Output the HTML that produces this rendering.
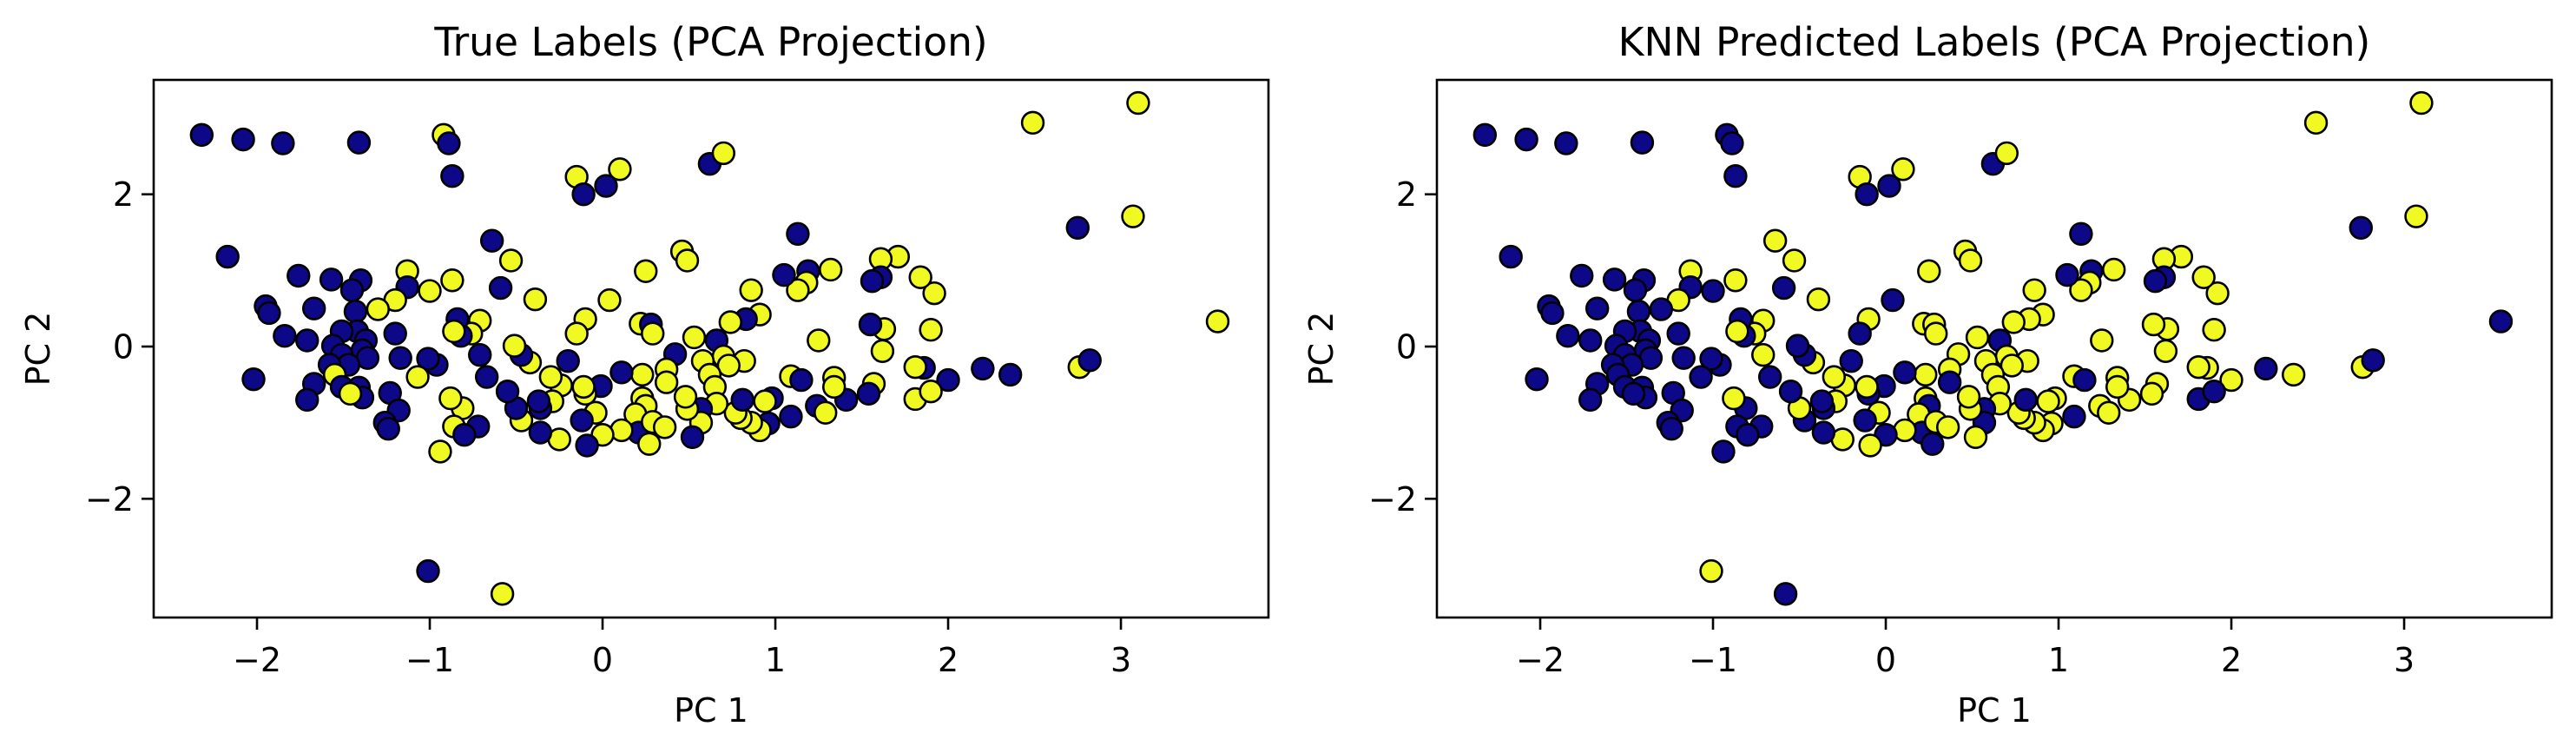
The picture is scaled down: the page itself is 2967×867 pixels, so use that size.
<!DOCTYPE html>
<html><head><meta charset="utf-8"><style>
html,body{margin:0;padding:0;background:#fff}
svg{display:block}
text{font-family:"DejaVu Sans","Liberation Sans",sans-serif;fill:#000}
</style></head><body>
<svg id="fig" width="2967" height="867" viewBox="0 0 2967 867"></svg>
<script>
const xTicks=[-2,-1,0,1,2,3];
const yTicks=[-2,0,2];
const titles=["True Labels (PCA Projection)","KNN Predicted Labels (PCA Projection)"];
const pc1=[-2.32,-2.08,-1.85,-1.41,-0.92,-0.89,-0.87,-0.15,-0.11,0.02,0.10,0.62,0.70,2.49,3.10,3.07,2.75,3.56,2.76,2.82,2.36,2.20,2.00,1.90,1.92,1.84,1.71,1.61,1.61,1.56,1.63,1.55,1.62,1.86,1.81,1.81,1.90,1.57,1.54,1.41,1.34,1.34,1.32,1.24,1.29,1.25,1.13,1.19,1.18,1.13,1.05,1.09,1.15,1.09,0.98,0.94,0.96,0.91,0.86,0.80,0.77,0.81,0.86,0.91,0.83,0.74,0.66,0.70,0.82,0.73,0.58,0.62,0.65,0.66,0.57,0.57,0.52,0.49,0.48,0.53,0.46,0.49,0.42,0.37,0.37,0.25,0.22,0.28,0.29,0.23,0.23,0.25,0.19,0.21,0.27,0.29,0.36,0.11,0.11,0.00,-0.01,-0.04,-0.10,-0.11,-0.12,-0.09,0.04,-0.10,-0.15,-0.20,-0.25,-0.24,-0.30,-0.29,-0.36,-0.37,-0.36,-0.47,-0.50,-0.55,-0.42,-0.47,-0.51,-0.39,-0.53,-0.64,-0.59,-0.67,-0.72,-0.71,-0.71,-0.76,-0.82,-0.84,-0.86,-0.87,-0.81,-0.88,-0.86,-0.80,-0.94,-0.96,-1.01,-1.00,-1.07,-1.13,-1.13,-1.20,-1.30,-1.20,-1.17,-1.23,-1.18,-1.26,-1.24,-1.01,-0.58,-1.40,-1.45,-1.43,-1.42,-1.37,-1.39,-1.36,-1.51,-1.56,-1.51,-1.47,-1.58,-1.55,-1.51,-1.41,-1.39,-1.46,-1.57,-1.76,-1.67,-1.95,-1.93,-1.84,-1.71,-1.67,-1.71,-2.02,-2.17];
const pc2=[2.78,2.72,2.67,2.68,2.78,2.67,2.24,2.23,2.00,2.11,2.33,2.40,2.54,2.94,3.20,1.71,1.56,0.33,-0.27,-0.18,-0.37,-0.29,-0.44,0.22,0.70,0.91,1.18,1.15,0.91,0.86,0.23,0.29,-0.06,-0.28,-0.27,-0.69,-0.59,-0.49,-0.62,-0.70,-0.41,-0.53,1.01,-0.78,-0.87,0.08,1.48,0.99,0.84,0.74,0.94,-0.39,-0.44,-0.92,-0.68,-0.72,-1.01,-1.10,-1.00,-0.94,-0.87,-0.70,0.74,0.42,0.36,0.32,0.08,-0.13,-0.19,-0.25,-0.19,-0.37,-0.53,-0.75,-0.82,-1.00,-1.19,-0.82,-0.66,0.12,1.25,1.13,-0.10,-0.30,-0.47,0.99,0.30,0.29,0.17,-0.37,-0.68,-0.78,-0.89,-1.13,-1.28,-0.99,-1.06,-0.34,-1.10,-1.16,-0.52,-0.87,-0.62,-0.53,-0.97,-1.30,0.61,0.36,0.17,-0.19,-1.22,-0.51,-0.40,-0.72,-0.81,-0.72,-1.13,-0.97,-0.81,-0.59,-0.21,-0.11,0.01,0.62,1.13,1.39,0.77,-0.40,-1.05,0.34,-0.11,0.17,0.14,0.36,0.20,0.87,-0.81,-0.68,-1.05,-1.16,-1.38,-0.24,-0.16,0.73,-0.40,0.99,0.78,0.61,0.49,0.17,-0.15,-0.61,-0.84,-1.00,-1.08,-2.95,-3.25,0.87,0.74,0.46,0.20,0.08,-0.05,-0.15,0.20,0.01,-0.11,-0.24,-0.24,-0.37,-0.53,-0.54,-0.67,-0.62,0.88,0.93,0.50,0.53,0.44,0.14,0.08,-0.49,-0.70,-0.43,1.18];
const trueLabel=[0,0,0,0,1,0,0,1,0,0,1,0,1,1,1,1,0,1,1,0,0,0,0,1,1,1,1,1,0,0,1,0,1,0,1,1,1,1,0,0,1,1,1,0,1,1,0,0,1,1,0,1,0,0,0,1,0,1,1,1,1,0,1,1,0,1,0,1,1,1,1,1,1,1,0,1,0,1,1,1,1,1,0,1,1,1,1,0,1,1,1,1,1,0,1,1,1,0,1,1,0,1,1,1,0,0,1,1,1,0,1,1,1,1,0,0,0,1,0,0,1,0,1,1,1,0,0,0,0,1,0,1,0,0,1,1,1,1,1,0,1,0,0,1,1,1,0,1,1,0,0,0,0,0,0,0,1,0,0,0,0,0,0,0,0,0,0,0,0,1,0,0,0,1,0,0,0,0,0,0,0,0,0,0,0];
const predLabel=[0,0,0,0,0,0,0,1,0,0,1,0,1,1,1,1,0,0,1,0,1,0,1,1,1,1,1,1,0,0,1,1,1,1,1,0,0,1,1,1,1,1,1,1,1,1,0,0,1,1,0,1,0,0,1,1,1,1,1,1,1,0,1,1,1,1,0,1,1,1,1,1,1,1,0,0,1,1,1,1,1,1,1,1,0,1,1,1,1,1,1,0,1,0,0,1,1,0,1,0,0,1,0,1,0,1,0,1,0,0,1,1,1,1,0,0,0,0,1,0,1,0,0,1,1,1,0,0,0,1,1,1,0,0,1,1,0,1,0,0,0,0,0,0,0,1,0,1,0,0,0,0,0,0,0,1,0,0,0,0,0,0,0,0,0,0,0,0,0,0,0,0,0,0,0,0,0,0,0,0,0,0,0,0,0];

const NS="http://www.w3.org/2000/svg";
const svg=document.getElementById('fig');
const X0=-2.598,X1=3.854,Y0=-3.56,Y1=3.503;
const PW=1284,PT=92,PB=711;
const colors=["#0d0887","#f0f921"];
function mk(tag,attrs,parent){const e=document.createElementNS(NS,tag);for(const k in attrs)e.setAttribute(k,attrs[k]);(parent||svg).appendChild(e);return e;}
function drawPanel(left,labels,title,idx){
  const g=mk('g',{});
  
  
  const sx=v=>left+(v-X0)/(X1-X0)*PW;
  const sy=v=>PB-(v-Y0)/(Y1-Y0)*(PB-PT);
  const t=mk('text',{x:left+PW/2,y:64,'text-anchor':'middle','font-size':45.5},g);
  t.textContent=title;
  
  
  for(let i=0;i<pc1.length;i++){
    const c=mk('circle',{cx:sx(pc1[i]),cy:sy(pc2[i]),r:12.4,fill:colors[labels[i]],stroke:'#000','stroke-width':2.6},g);
    
    
  }
  const fr=mk('rect',{x:left,y:PT,width:PW,height:PB-PT,fill:'none',stroke:'#000','stroke-width':2.6},g);
  
  
  xTicks.forEach(v=>{
    const x=sx(v);
    const l=mk('line',{x1:x,x2:x,y1:PB,y2:PB+14,stroke:'#000','stroke-width':2.6},g);
    
    
    const tx=mk('text',{x:x,y:773,'text-anchor':'middle','font-size':38},g);
    tx.textContent=(v<0?'\u2212':'')+Math.abs(v);
    
    
  });
  yTicks.forEach(v=>{
    const y=sy(v);
    const l=mk('line',{x1:left-14,x2:left,y1:y,y2:y,stroke:'#000','stroke-width':2.6},g);
    
    
    const ty=mk('text',{x:left-23,y:y+13.5,'text-anchor':'end','font-size':38},g);
    ty.textContent=(v<0?'\u2212':'')+Math.abs(v);
    
    
  });
  const xl=mk('text',{x:left+PW/2,y:831,'text-anchor':'middle','font-size':38},g);
  xl.textContent='PC 1';
  
  
  const yx=left-120, yy=(PT+PB)/2;
  const yl=mk('text',{x:yx,y:yy,'text-anchor':'middle','font-size':38,transform:'rotate(-90 '+yx+' '+yy+')'},g);
  yl.textContent='PC 2';
  
  
}
drawPanel(177,trueLabel,titles[0],0);
drawPanel(1655,predLabel,titles[1],1);
</script>
</body></html>
